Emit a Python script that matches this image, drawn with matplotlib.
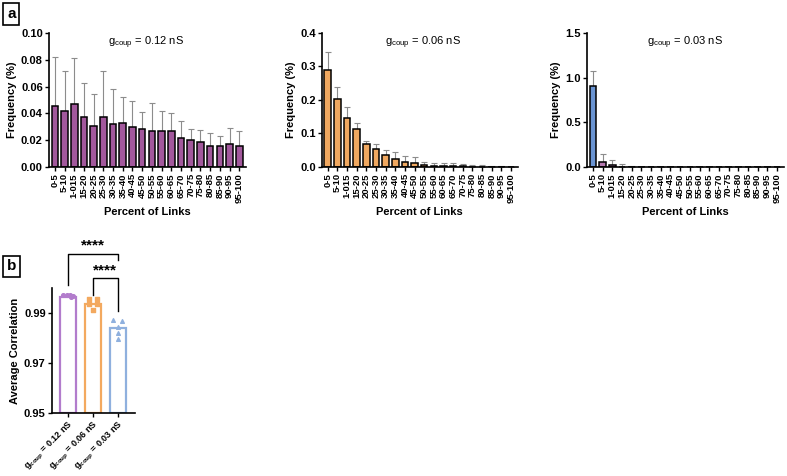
import numpy as np
import matplotlib
matplotlib.use("Agg")
import matplotlib.pyplot as plt

plt.rcParams['font.family'] = ['Liberation Sans', 'DejaVu Sans']

# --- data ---------------------------------------------------------------
bins = ['0-5', '5-10', '1-015', '15-20', '20-25', '25-30', '30-35', '35-40',
        '40-45', '45-50', '50-55', '55-60', '60-65', '65-70', '70-75',
        '75-80', '80-85', '85-90', '90-95', '95-100']

freq_012 = [0.0455, 0.0418, 0.0473, 0.0375, 0.0308, 0.0373, 0.0318, 0.0328,
            0.0298, 0.0283, 0.0268, 0.0268, 0.0268, 0.0213, 0.0205, 0.0190,
            0.0158, 0.0160, 0.0170, 0.0160]
err_012 = [0.0363, 0.0302, 0.0340, 0.0250, 0.0235, 0.0345, 0.0265, 0.0195,
           0.0192, 0.0125, 0.0207, 0.0152, 0.0135, 0.0127, 0.0078, 0.0085,
           0.0092, 0.0070, 0.0118, 0.0110]

freq_006 = [0.290, 0.203, 0.147, 0.112, 0.070, 0.055, 0.037, 0.025, 0.015,
            0.012, 0.006, 0.003, 0.003, 0.003, 0.002, 0.001, 0.001, 0.001,
            0.0, 0.0]
err_006 = [0.052, 0.037, 0.033, 0.018, 0.008, 0.013, 0.013, 0.021, 0.017,
           0.018, 0.010, 0.010, 0.010, 0.010, 0.007, 0.004, 0.005, 0.003,
           0.002, 0.001]

freq_003 = [0.907, 0.056, 0.022, 0.005, 0.002] + [0.0] * 15
err_003 = [0.173, 0.094, 0.053, 0.032, 0.010] + [0.0] * 15

groups = ['0.12', '0.06', '0.03']
corr_means = [0.99655, 0.99355, 0.98408]
corr_012 = [0.9973, 0.9970, 0.9970, 0.9967, 0.9965]
corr_006 = [0.9955, 0.9955, 0.9936, 0.9936, 0.9913]
corr_003 = [0.9872, 0.9867, 0.9845, 0.9818, 0.9797]

# --- styling ------------------------------------------------------------
fill_cols = ['#a2589c', '#f0a860', '#6a94d2']
pt_cols = ['#b27ccc', '#f3a95f', '#8fb0de']

fig = plt.figure(figsize=(7.87, 4.76), dpi=100)


def style_axes(ax):
    for s in ['top', 'right']:
        ax.spines[s].set_visible(False)
    for s in ['left', 'bottom']:
        ax.spines[s].set_linewidth(1.2)
    ax.tick_params(width=1.0, length=3, labelsize=8, pad=1.5)
    for lab in ax.get_yticklabels():
        lab.set_fontweight('bold')


def freq_panel(rect, vals, errs, color, ylim, yticks, ticklabels, gtext, gx):
    ax = fig.add_axes(rect)
    x = np.arange(len(bins))
    cols = color if isinstance(color, list) else [color] * len(bins)
    ax.bar(x, vals, width=0.68, color=cols, edgecolor='black', linewidth=1.1,
           zorder=2)
    ax.errorbar(x, vals, yerr=[np.zeros(len(errs)), errs], fmt='none',
                ecolor='#8c8c8c', elinewidth=0.8, capsize=2, capthick=0.8,
                zorder=1)
    ax.set_xlim(-0.6, 19.7)
    ax.set_ylim(*ylim)
    ax.set_yticks(yticks)
    ax.set_yticklabels(ticklabels)
    ax.set_xticks(x)
    style_axes(ax)
    ax.set_xticklabels(bins, rotation=90, fontsize=6.8, fontweight='bold')
    ax.set_ylabel('Frequency (%)', fontsize=8, fontweight='bold', labelpad=3)
    ax.set_xlabel('Percent of Links', fontsize=8, fontweight='bold',
                  labelpad=3)
    ax.text(gx, 0.93, r'$\mathregular{g_{coup}}$ = ' + gtext + ' nS',
            transform=ax.transAxes, ha='center', va='center', fontsize=8)
    return ax


freq_panel([0.0623, 0.6492, 0.2503, 0.2815], freq_012, err_012, fill_cols[0],
           (0, 0.10), [0, 0.02, 0.04, 0.06, 0.08, 0.10],
           ['0.00', '0.02', '0.04', '0.06', '0.08', '0.10'], '0.12', 0.49)
freq_panel([0.409, 0.6492, 0.249, 0.2815], freq_006, err_006, fill_cols[1],
           (0, 0.4), [0, 0.1, 0.2, 0.3, 0.4],
           ['0.0', '0.1', '0.2', '0.3', '0.4'], '0.06', 0.515)
freq_panel([0.746, 0.6492, 0.25, 0.2815], freq_003, err_003,
           [fill_cols[2]] + ['#b679b0'] * 19,
           (0, 1.5), [0, 0.5, 1.0, 1.5],
           ['0.0', '0.5', '1.0', '1.5'], '0.03', 0.5)

# --- panel b ------------------------------------------------------------
axb = fig.add_axes([0.066, 0.1324, 0.1055, 0.2626])
xb = np.arange(len(groups))
axb.bar(xb, np.array(corr_means) - 0.95, bottom=0.95, width=0.64,
        facecolor='white', edgecolor=pt_cols, linewidth=1.6, zorder=2)
axb.scatter(xb[0] + np.array([-0.2, -0.05, 0.08, 0.2, 0.12]), corr_012,
            marker='o', s=7, color=pt_cols[0], zorder=3, clip_on=False)
axb.scatter(xb[1] + np.array([-0.15, 0.15, -0.15, 0.15, 0.0]), corr_006,
            marker='s', s=7, color=pt_cols[1], zorder=3)
axb.scatter(xb[2] + np.array([-0.2, 0.15, 0.0, 0.0, 0.0]), corr_003,
            marker='^', s=7, color=pt_cols[2], zorder=3)
axb.set_xlim(-0.64, 2.68)
axb.set_ylim(0.95, 1.0)
axb.set_yticks([0.95, 0.97, 0.99])
axb.set_yticklabels(['0.95', '0.97', '0.99'])
axb.set_xticks(xb)
style_axes(axb)
axb.tick_params(axis='x', pad=1)
axb.set_xticklabels([r'$\mathregular{g_{coup}}$ = ' + g + ' nS' for g in groups],
                    rotation=45, ha='right', rotation_mode='anchor',
                    fontsize=6.5, fontweight='bold')
axb.set_ylabel('Average Correlation', fontsize=8, fontweight='bold',
               labelpad=3)

# significance brackets
kw = dict(color='black', lw=1.0, clip_on=False)
axb.plot([0, 0, 2, 2], [1.0012, 1.0137, 1.0137, 1.011], **kw)
axb.plot([1, 1, 2, 2], [0.9972, 1.0039, 1.0039, 0.9906], **kw)
axb.text(1.0, 1.0142, '****', ha='center', va='bottom', fontsize=11,
         fontweight='bold')
axb.text(1.5, 1.0044, '****', ha='center', va='bottom', fontsize=11,
         fontweight='bold')

# panel letters
box = dict(boxstyle='square,pad=0.25', facecolor='white', edgecolor='black',
           lw=1.2)
fig.text(0.009, 0.985, 'a', fontsize=11, fontweight='bold', ha='left',
         va='top', bbox=box)
fig.text(0.009, 0.455, 'b', fontsize=11, fontweight='bold', ha='left',
         va='top', bbox=box)

fig.savefig('out.png', dpi=100)
